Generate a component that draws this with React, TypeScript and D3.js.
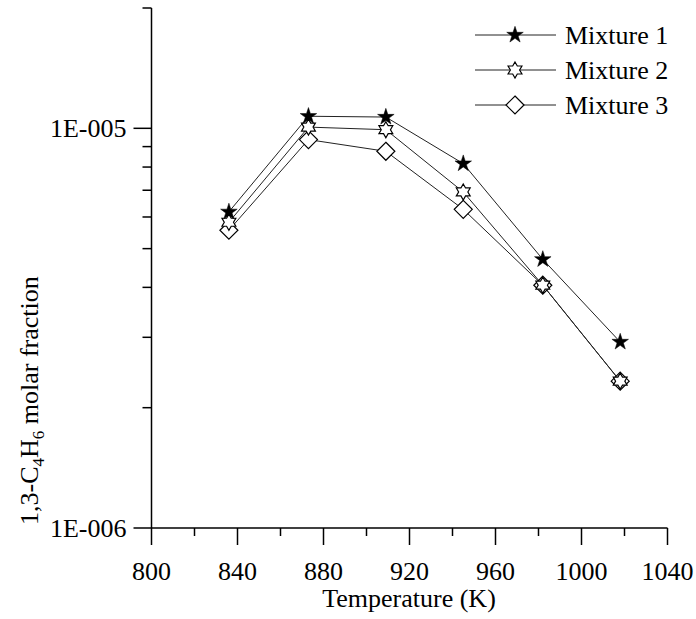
import React from "react";
import * as d3 from "d3";

const temperatures = [836, 873, 909, 945, 982, 1018];
const mixture1 = [6.18e-6, 1.072e-5, 1.067e-5, 8.16e-6, 4.7e-6, 2.92e-6];
const mixture2 = [5.82e-6, 1.007e-5, 9.92e-6, 6.93e-6, 4.05e-6, 2.33e-6];
const mixture3 = [5.56e-6, 9.37e-6, 8.76e-6, 6.27e-6, 4.05e-6, 2.33e-6];
const seriesNames = ["Mixture 1", "Mixture 2", "Mixture 3"];
const xTicks = [800, 840, 880, 920, 960, 1000, 1040];
const xMinorTicks = [820, 860, 900, 940, 980, 1020];
const yTicks = [1e-6, 1e-5];
const yTickLabels = ["1E-006", "1E-005"];
const yMinorTicks = [2e-6, 3e-6, 4e-6, 5e-6, 6e-6, 7e-6, 8e-6, 9e-6, 2e-5];

const W = 696;
const H = 619;
const FS = 26;
const CSS = `svg text, svg tspan { font-family: "Liberation Serif", "Times New Roman", Times, serif !important; }`;

function hexagramPath(r: number) {
  const ri = r / Math.sqrt(3);
  const pts: [number, number][] = [];
  for (let i = 0; i < 12; i++) {
    const a = (Math.PI / 6) * i - Math.PI / 2;
    const rr = i % 2 === 0 ? r : ri;
    pts.push([rr * Math.cos(a), rr * Math.sin(a)]);
  }
  return "M" + pts.map((p) => p[0].toFixed(2) + "," + p[1].toFixed(2)).join("L") + "Z";
}

function Marker({ kind, x, y }: { kind: number; x: number; y: number }) {
  if (kind === 0) {
    const d = d3.symbol().type(d3.symbolStar).size(85)() as string;
    return <path d={d} transform={`translate(${x},${y})`} fill="#000" stroke="#000" strokeWidth={0.5} />;
  }
  if (kind === 1) {
    return <path d={hexagramPath(8)} transform={`translate(${x},${y})`} fill="#fff" stroke="#000" strokeWidth={1.2} />;
  }
  const s = 9;
  return (
    <path
      d={`M0,${-s}L${s},0L0,${s}L${-s},0Z`}
      transform={`translate(${x},${y})`}
      fill="#fff"
      stroke="#000"
      strokeWidth={1.2}
    />
  );
}

export default function App() {
  const x = d3.scaleLinear().domain([800, 1040]).range([151.5, 667.5]);
  const y = d3.scaleLog().domain([1e-6, 2e-5]).range([528, 8]);
  const series = [mixture1, mixture2, mixture3];
  const line = d3
    .line<number>()
    .x((_, i) => x(temperatures[i]))
    .y((d) => y(d));
  const x0 = x(800);
  const yB = y(1e-6);
  const legendRows = [35, 70, 105];
  const tf = { fontFamily: "Liberation Serif", fontSize: FS };

  return (
    <svg width={W} height={H} fontFamily="Liberation Serif" style={{ position: "absolute", left: 0, top: 0 }}>
      <style>{CSS}</style>
      <rect width={W} height={H} fill="#fff" />
      <line x1={x0} x2={x0} y1={y(2e-5)} y2={yB} stroke="#000" strokeWidth={1.5} />
      <line x1={x0} x2={x(1040)} y1={yB} y2={yB} stroke="#000" strokeWidth={1.5} />
      {xTicks.map((t) => (
        <line key={"xtl" + t} x1={x(t)} x2={x(t)} y1={yB} y2={yB + 17} stroke="#000" strokeWidth={1.5} />
      ))}
      {xTicks.map((t) => (
        <text key={"xt" + t} x={x(t)} y={yB + 52} textAnchor="middle" {...tf}>
          {String(t)}
        </text>
      ))}
      {xMinorTicks.map((t) => (
        <line key={"xm" + t} x1={x(t)} x2={x(t)} y1={yB} y2={yB + 8} stroke="#000" strokeWidth={1.5} />
      ))}
      {yTicks.map((t) => (
        <line key={"ytl" + t} x1={x0 - 18} x2={x0} y1={y(t)} y2={y(t)} stroke="#000" strokeWidth={1.5} />
      ))}
      {yTicks.map((t, i) => (
        <text key={"yt" + t} x={x0 - 25} y={y(t) + 9} textAnchor="end" {...tf}>
          {yTickLabels[i]}
        </text>
      ))}
      {yMinorTicks.map((t) => (
        <line key={"ym" + t} x1={x0 - 9} x2={x0} y1={y(t)} y2={y(t)} stroke="#000" strokeWidth={1.5} />
      ))}
      <text x={409} y={607} textAnchor="middle" {...tf}>
        Temperature (K)
      </text>
      <text transform="translate(38,525) rotate(-90)" textAnchor="start" {...tf}>
        1,3-C
        <tspan fontSize={17} dy={6}>4</tspan>
        <tspan dy={-6}>H</tspan>
        <tspan fontSize={17} dy={6}>6</tspan>
        <tspan dy={-6}> molar fraction</tspan>
      </text>
      {series.map((s, k) => (
        <path key={"l" + k} d={line(s) as string} fill="none" stroke="#222" strokeWidth={1} />
      ))}
      {series
        .map((s, k) => ({ s, k }))
        .reverse()
        .map(({ s, k }) =>
          s.map((v, i) => <Marker key={`m${k}-${i}`} kind={k} x={x(temperatures[i])} y={y(v)} />)
        )}
      {seriesNames.map((n, k) => (
        <line key={"lgl" + k} x1={475} x2={556} y1={legendRows[k]} y2={legendRows[k]} stroke="#222" strokeWidth={1} />
      ))}
      {seriesNames.map((n, k) => (
        <Marker key={"lgm" + k} kind={k} x={515} y={legendRows[k]} />
      ))}
      {seriesNames.map((n, k) => (
        <text key={"lgt" + k} x={565} y={legendRows[k] + 9} {...tf}>
          {n}
        </text>
      ))}
    </svg>
  );
}
